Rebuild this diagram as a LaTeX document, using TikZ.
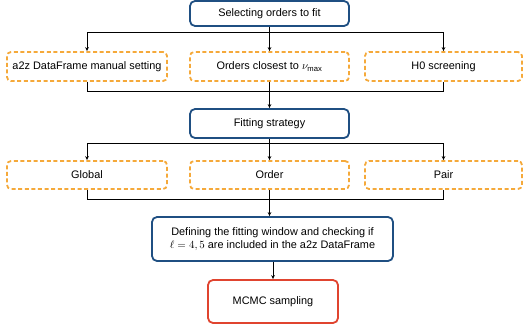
\documentclass[tikz,border=0pt]{standalone}
\usepackage{fontspec}
\setmainfont{Liberation Sans}
\usetikzlibrary{arrows.meta}
\definecolor{boxblue}{HTML}{1F4F82}
\definecolor{boxorange}{HTML}{F5A93A}
\definecolor{boxred}{HTML}{E0442F}
\tikzset{
  solidbox/.style={draw=boxblue, line width=1.8pt, rounded corners=5pt, align=center, font=\fontsize{10.9}{13}\selectfont, inner sep=0pt},
  dashbox/.style={draw=boxorange, line width=1.8pt, dash pattern=on 4pt off 2.6pt, rounded corners=4pt, align=center, font=\fontsize{10.9}{13}\selectfont, inner sep=0pt},
  redbox/.style={solidbox, draw=boxred},
  conn/.style={line width=0.7pt, draw=black},
  arr/.style={conn, -{Stealth[length=4pt,width=3.6pt]}},
}
\begin{document}
\begin{tikzpicture}[x=1pt,y=-1pt]
\useasboundingbox (0,0) rectangle (529,326);
\node[solidbox, minimum width=159pt, minimum height=25pt] (sel) at (269.5,13.5) {Selecting orders to fit};
\node[dashbox, minimum width=160pt, minimum height=29pt] (a1) at (87,66.5) {a2z DataFrame manual setting};
\node[dashbox, minimum width=159pt, minimum height=29pt] (a2) at (269.5,66.5) {Orders closest to $\nu_{\mathrm{max}}$};
\node[dashbox, minimum width=157pt, minimum height=29pt] (a3) at (443.5,66.5) {H0 screening};
\node[solidbox, minimum width=159pt, minimum height=29pt] (fit) at (269.5,123.5) {Fitting strategy};
\node[dashbox, minimum width=160pt, minimum height=28pt] (b1) at (87,175) {Global};
\node[dashbox, minimum width=159pt, minimum height=28pt] (b2) at (269.5,175) {Order};
\node[dashbox, minimum width=157pt, minimum height=28pt] (b3) at (443.5,175) {Pair};
\node[solidbox, minimum width=241pt, minimum height=44pt] (def) at (272.5,239) {Defining the fitting window and checking if\\ $\ell=4,5$ are included in the a2z DataFrame};
\node[redbox, minimum width=130pt, minimum height=43pt] (mc) at (273,301.5) {MCMC sampling};
\coordinate (s1) at (269.5,32);
\coordinate (j1) at (269.5,91);
\coordinate (s2) at (269.5,143);
\coordinate (j2) at (269.5,199);
% first branch
\draw[conn] (sel.south) -- (s1);
\draw[arr] (s1) -| (a1.north);
\draw[arr] (s1) -| (a3.north);
\draw[arr] (s1) -- (a2.north);
\draw[conn] (a1.south) |- (j1);
\draw[conn] (a3.south) |- (j1);
\draw[arr] (a2.south) -- (fit.north);
% second branch
\draw[conn] (fit.south) -- (s2);
\draw[arr] (s2) -| (b1.north);
\draw[arr] (s2) -| (b3.north);
\draw[arr] (s2) -- (b2.north);
\draw[conn] (b1.south) |- (j2);
\draw[conn] (b3.south) |- (j2);
\draw[arr] (b2.south) -- (b2.south |- def.north);
\draw[arr] (def.south -| mc.north) -- (mc.north);
\end{tikzpicture}
\end{document}
